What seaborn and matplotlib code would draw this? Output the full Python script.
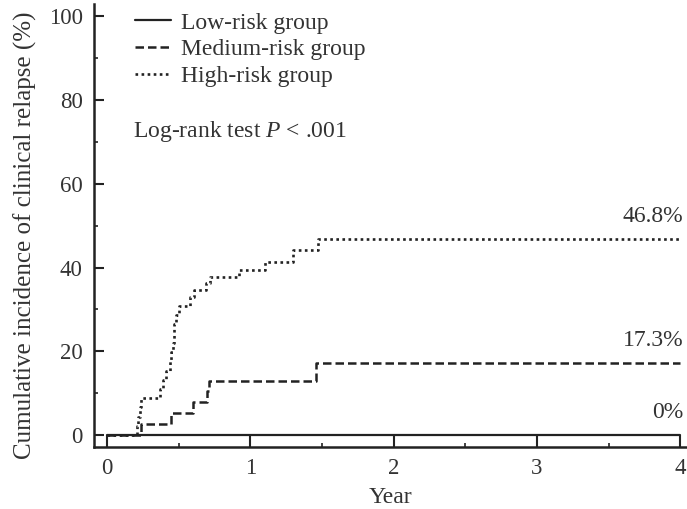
import matplotlib
matplotlib.use("Agg")
import matplotlib.pyplot as plt
import seaborn as sns
import pandas as pd
from matplotlib.ticker import MultipleLocator

# ---- data ----
low_time = [0.0, 4.0]
low_inc = [0.0, 0.0]

med_time = [0.0, 0.24, 0.45, 0.60, 0.70, 0.71, 1.46, 4.0]
med_inc = [0.0, 2.6, 5.2, 7.8, 10.4, 12.8, 17.3, 17.3]

high_time = [0.0, 0.21, 0.22, 0.23, 0.24, 0.37, 0.39, 0.41, 0.44, 0.45, 0.46,
             0.465, 0.47, 0.48, 0.50, 0.58, 0.61, 0.69, 0.72, 0.92, 1.10, 1.30,
             1.47, 4.0]
high_inc = [0.0, 2.2, 4.4, 6.6, 8.8, 11.0, 13.2, 15.4, 17.6, 19.8, 22.0,
            24.2, 26.4, 28.6, 30.8, 33.0, 34.6, 36.2, 37.8, 39.5, 41.4, 44.2,
            46.8, 46.8]

groups = ["Low-risk group", "Medium-risk group", "High-risk group"]
end_labels = ["0%", "17.3%", "46.8%"]
x_ticks = [0, 1, 2, 3, 4]
y_ticks = [0, 20, 40, 60, 80, 100]

sns.set_theme(style="ticks")
plt.rcParams["font.family"] = ["Liberation Serif", "DejaVu Serif"]
plt.rcParams["mathtext.fontset"] = "custom"
plt.rcParams["mathtext.it"] = "Liberation Serif:italic"
plt.rcParams["mathtext.rm"] = "Liberation Serif"

FS = 17
TFS = 16.5
txtc = "#333333"

fig = plt.figure(figsize=(6.87, 5.09), dpi=100)
ax = fig.add_axes([0.1368, 0.1218, 0.8632, 0.870])

ink = "#222222"
styles = [
    dict(linestyle="-", lw=1.6),
    dict(linestyle=(0, (3.4, 1.6)), lw=1.8),
    dict(linestyle=(0, (1.0, 1.3)), lw=1.9),
]
series = [(low_time, low_inc), (med_time, med_inc), (high_time, high_inc)]
for (t, v), g, st in zip(series, groups, styles):
    df = pd.DataFrame({"Year": t, "inc": v})
    sns.lineplot(data=df, x="Year", y="inc", ax=ax, color=ink,
                 drawstyle="steps-post", label=g, **st)

ax.set_xlim(-0.09, 4.047)
ax.set_ylim(-2.86, 102.9)
ax.set_xticks(x_ticks)
ax.set_yticks(y_ticks)
ax.xaxis.set_minor_locator(MultipleLocator(0.5))
ax.yaxis.set_minor_locator(MultipleLocator(10))
ax.tick_params(axis="both", which="major", direction="in", width=1.5,
               colors=ink, labelsize=TFS, labelcolor=txtc)
ax.tick_params(axis="x", which="major", length=8.6, pad=8)
ax.tick_params(axis="y", which="major", length=7.5, pad=8)
ax.tick_params(axis="both", which="minor", direction="in", length=3, width=1.2,
               colors=ink)
for s in ["top", "right"]:
    ax.spines[s].set_visible(False)
for s in ["left", "bottom"]:
    ax.spines[s].set_linewidth(1.8)
    ax.spines[s].set_color(ink)

ax.set_xlabel("Year", fontsize=FS, color=txtc, labelpad=6)
ax.set_ylabel("Cumulative incidence of clinical relapse (%)", fontsize=18,
              color=txtc)
ax.yaxis.set_label_coords(-0.115, 0.478)
ax.yaxis.label.set_va("center")

leg = ax.legend(loc="upper left", bbox_to_anchor=(0.069, 0.982), frameon=False,
                fontsize=FS, handlelength=1.55, handletextpad=0.4,
                labelspacing=0.22, borderaxespad=0, borderpad=0)
for txt in leg.get_texts():
    txt.set_color(txtc)

ax.text(0.18, 72.4, r"Log-rank test $P$ < .001", fontsize=FS, color=txtc,
        va="center", ha="left")

final_vals = [low_inc[-1], med_inc[-1], high_inc[-1]]
for lab, v in zip(end_labels, final_vals):
    ax.text(4.02, v + 5.3, lab, fontsize=FS, color=txtc,
            ha="right", va="center")

fig.savefig("out.png", dpi=100)
